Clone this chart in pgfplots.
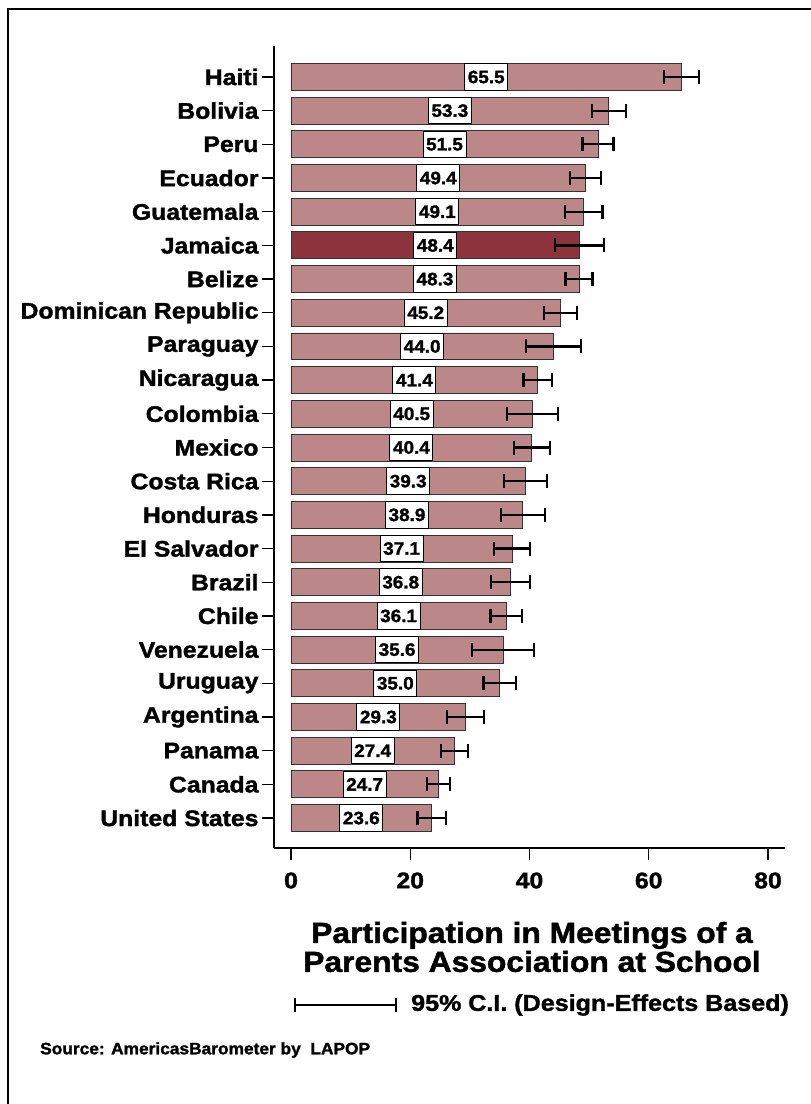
\documentclass[border=0pt]{standalone}
\usepackage{pgfplots}
\usepackage{pgfplotstable}
\pgfplotsset{compat=1.18}
\usepackage{fontspec}
\setmainfont{Liberation Sans}
\newfontfamily\blk{Liberation Sans Bold}[FakeStretch=1.1,FakeBold=1.5]
\newfontfamily\blkn{Liberation Sans Bold}[FakeStretch=1.05,FakeBold=1.5]
\definecolor{barlight}{RGB}{188,135,136}
\definecolor{bardark}{RGB}{141,51,59}

\pgfplotstableread{
y v e
0 23.6 2.4
1 24.7 1.9
2 27.4 2.3
3 29.3 3.1
4 35.0 2.7
5 35.6 5.2
6 36.1 2.65
7 36.8 3.25
8 37.1 3.05
9 38.9 3.65
10 39.3 3.6
11 40.4 3.0
12 40.5 4.25
13 41.4 2.4
14 44.0 4.65
15 45.2 2.75
16 48.3 2.25
18 49.1 3.15
19 49.4 2.6
20 51.5 2.6
21 53.3 2.85
22 65.5 2.9
}\light

\pgfplotstableread{
y v e
17 48.4 4.15
}\dark

\pgfplotstableread{
y v
0 23.6
1 24.7
2 27.4
3 29.3
4 35.0
5 35.6
6 36.1
7 36.8
8 37.1
9 38.9
10 39.3
11 40.4
12 40.5
13 41.4
14 44.0
15 45.2
16 48.3
17 48.4
18 49.1
19 49.4
20 51.5
21 53.3
22 65.5
}\all

\begin{document}
\begin{tikzpicture}
\useasboundingbox (0,0) rectangle (811bp,-1104bp);
\fill[white] (0,0) rectangle (811bp,-1104bp);
\draw[line width=2.2bp] (8bp,-1110bp) -- (8bp,-9bp) -- (815bp,-9bp);
\begin{axis}[
  at={(274bp,-848bp)}, anchor=south west,
  scale only axis, width=511bp, height=802bp,
  xmin=-2.85, xmax=82.85, ymin=-0.89, ymax=22.92,
  axis x line*=bottom, axis y line*=left,
  axis line style={line width=1.3bp, -},
  xtick={0,20,40,60,80},
  ytick={0,...,22},
  yticklabels={United States,Canada,Panama,Argentina,Uruguay,Venezuela,Chile,Brazil,El Salvador,Honduras,Costa Rica,Mexico,Colombia,Nicaragua,Paraguay,Dominican Republic,Belize,Jamaica,Guatemala,Ecuador,Peru,Bolivia,Haiti},
  tick align=outside, major tick length=12bp,
  tick style={black, line width=1.3bp},
  minor tick num=0,
  /pgf/number format/assume math mode=true,
  x tick label style={font=\blk\fontsize{22.5bp}{26bp}\selectfont, yshift=-9bp},
  y tick label style={font=\blk\fontsize{22.5bp}{26bp}\selectfont},
  clip=false,
]
\addplot[xbar, bar shift=0pt, bar width=0.8, fill=barlight, draw=black!80, line width=0.9bp,
  error bars/.cd, x dir=both, x explicit, error mark=|,
  error bar style={line width=2.2bp, black},
  error mark options={black, line width=2.2bp, mark size=7bp}]
  table[x=v, y=y, x error=e] {\light};
\addplot[xbar, bar shift=0pt, bar width=0.8, fill=bardark, draw=black!80, line width=0.9bp,
  error bars/.cd, x dir=both, x explicit, error mark=|,
  error bar style={line width=2.2bp, black},
  error mark options={black, line width=2.2bp, mark size=7bp}]
  table[x=v, y=y, x error=e] {\dark};
\addplot[draw=none, mark=none, point meta=explicit,
  nodes near coords={\pgfmathprintnumber[fixed, fixed zerofill, precision=1, assume math mode=true]{\pgfplotspointmeta}},
  nodes near coords style={anchor=center, fill=white, draw=black, line width=1bp,
     font=\blkn\fontsize{18bp}{20bp}\selectfont, minimum width=43bp, minimum height=26.5bp, inner sep=0pt}]
  table[x expr=\thisrow{v}/2, y=y, meta=v] {\all};
\end{axis}
\node[font=\blk\fontsize{28.9bp}{29bp}\selectfont, align=center] at (532bp,-947bp)
  {Participation in Meetings of a\\Parents Association at School};
\draw[line width=1.8bp] (295bp,-1005bp) -- (396bp,-1005bp);
\draw[line width=1.8bp] (295bp,-998bp) -- (295bp,-1012bp);
\draw[line width=1.8bp] (396bp,-998bp) -- (396bp,-1012bp);
\node[anchor=west, font=\blk\fontsize{22.8bp}{26bp}\selectfont, inner sep=0pt] at (411bp,-1005bp) {95\% C.I. (Design-Effects Based)};
\node[anchor=west, font=\blkn\fontsize{16.5bp}{18bp}\selectfont, inner sep=0pt] at (40bp,-1050bp) {Source: AmericasBarometer by\ \ LAPOP};
\end{tikzpicture}
\end{document}
